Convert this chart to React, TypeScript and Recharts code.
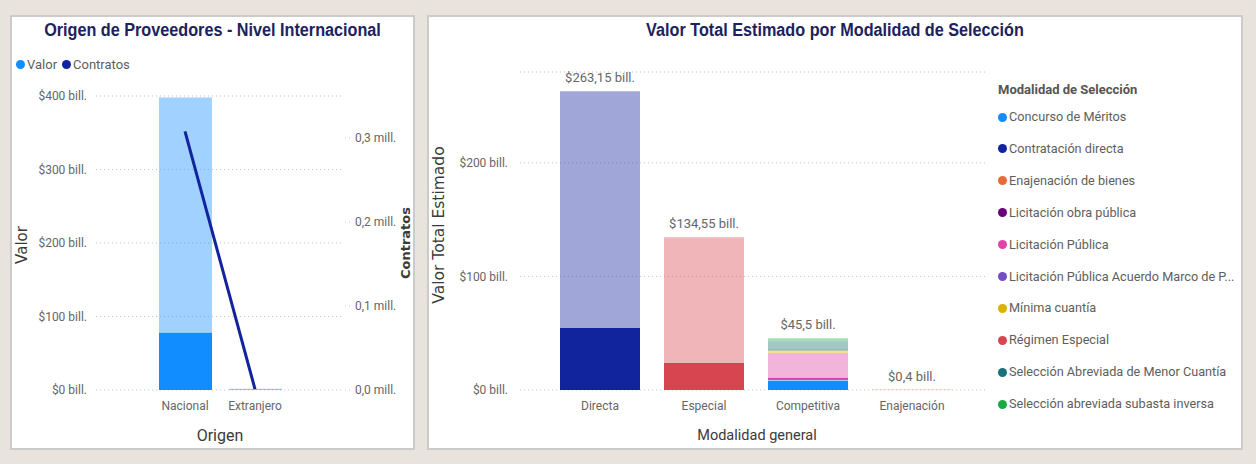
import { ComposedChart, Bar, Line, XAxis, YAxis, CartesianGrid, LabelList } from 'recharts'

// ─── Datos: Origen de proveedores ─────────────────────────────────────────────

const origenes = ['Nacional', 'Extranjero']
const valorTotalOrigen = [398, 1.6]      // bill.
const valorSelOrigen = [78, 0.4]         // parte resaltada, bill.
const contratosOrigen = [0.308, 0.001]   // mill.

const ticksValor = [0, 100, 200, 300, 400]
const ticksContratos = [0, 0.1, 0.2, 0.3]

// ─── Datos: Valor total por modalidad ─────────────────────────────────────────

const modalidadesGenerales = ['Directa', 'Especial', 'Competitiva', 'Enajenación']

const modalidades = [
  'Concurso de Méritos',
  'Contratación directa',
  'Enajenación de bienes',
  'Licitación obra pública',
  'Licitación Pública',
  'Licitación Pública Acuerdo Marco de P...',
  'Mínima cuantía',
  'Régimen Especial',
  'Selección Abreviada de Menor Cuantía',
  'Selección abreviada subasta inversa',
]

const colores = [
  '#118DFF', '#12239E', '#E66C37', '#6B007B', '#E044A7',
  '#744EC2', '#D9B300', '#D64550', '#197278', '#1AAB40',
]

// total por modalidad, en el orden de modalidadesGenerales (bill.)
const concursoTotal   = [0, 0, 8.8, 0]
const directaTotal    = [263.15, 0, 0, 0]
const enajenacionTotal = [0, 0, 0, 0.4]
const obraTotal       = [0, 0, 0, 0]
const licitacionTotal = [0, 0, 23.7, 0]
const acuerdoTotal    = [0, 0, 0, 0]
const minimaTotal     = [0, 0, 2.4, 0]
const regimenTotal    = [0, 134.55, 0, 0]
const menorTotal      = [0, 0, 8.0, 0]
const subastaTotal    = [0, 0, 2.6, 0]

// parte resaltada
const concursoSel   = [0, 0, 8.0, 0]
const directaSel    = [54.6, 0, 0, 0]
const enajenacionSel = [0, 0, 0, 0]
const obraSel       = [0, 0, 0, 0]
const licitacionSel = [0, 0, 2.0, 0]
const acuerdoSel    = [0, 0, 0, 0]
const minimaSel     = [0, 0, 0, 0]
const regimenSel    = [0, 23.8, 0, 0]
const menorSel      = [0, 0, 0.5, 0]
const subastaSel    = [0, 0, 0, 0]

const ticksModalidad = [0, 100, 200]

// ─── Estilos ──────────────────────────────────────────────────────────────────

const TITLE = '#1C2260'
const GRID = '#C8C6C4'
const TICK = '#666666'
const AXIS_TITLE = '#3B3A39'
const LEGEND = '#605E5C'

const tickStyle = { fontSize: 12, fill: TICK, fontFamily: 'Roboto' }

const totales = [concursoTotal, directaTotal, enajenacionTotal, obraTotal, licitacionTotal,
  acuerdoTotal, minimaTotal, regimenTotal, menorTotal, subastaTotal]
const seleccion = [concursoSel, directaSel, enajenacionSel, obraSel, licitacionSel,
  acuerdoSel, minimaSel, regimenSel, menorSel, subastaSel]

const origenData = origenes.map((o, i) => ({
  origen: o,
  sel: valorSelOrigen[i],
  resto: valorTotalOrigen[i] - valorSelOrigen[i],
  contratos: contratosOrigen[i],
}))

const modalidadData = modalidadesGenerales.map((m, c) => {
  const row: Record<string, string | number> = { modalidad: m }
  let total = 0
  modalidades.forEach((_, s) => {
    row['s' + s] = seleccion[s][c]
    row['r' + s] = totales[s][c] - seleccion[s][c]
    total += totales[s][c]
  })
  row.total = total
  return row
})

function fmtBill(v: number) {
  return '$' + String(Math.round(v * 100) / 100).replace('.', ',') + ' bill.'
}

function fmtMill(v: number) {
  return v.toFixed(1).replace('.', ',') + ' mill.'
}

// ─── Piezas comunes ───────────────────────────────────────────────────────────

const panelStyle: React.CSSProperties = {
  position: 'absolute', top: 15, height: 435, background: '#FFFFFF',
  boxShadow: 'inset 0 0 0 2px #CBCBCB',
}

function Title({ text, width }: { text: string; width: number }) {
  return (
    <div style={{
      position: 'absolute', left: 0, top: 4, width, textAlign: 'center',
      fontFamily: '"Liberation Sans", Arial', fontWeight: 700, fontSize: 18,
      lineHeight: '22px', color: TITLE, transform: 'scaleX(0.9)', whiteSpace: 'nowrap',
    }}>
      {text}
    </div>
  )
}

function Rotated({ text, x, y, size, bold }: { text: string; x: number; y: number; size: number; bold?: boolean }) {
  return (
    <div style={{
      position: 'absolute', left: x, top: y, transform: 'translate(-50%, -50%) rotate(-90deg)',
      fontFamily: '"DejaVu Sans"', fontSize: size, fontWeight: bold ? 700 : 400,
      color: AXIS_TITLE, whiteSpace: 'nowrap', lineHeight: 1,
    }}>
      {text}
    </div>
  )
}

function Centered({ text, x, y, size }: { text: string; x: number; y: number; size: number }) {
  return (
    <div style={{
      position: 'absolute', left: x, top: y, transform: 'translate(-50%, -50%)',
      fontFamily: 'Roboto', fontSize: size, color: AXIS_TITLE, whiteSpace: 'nowrap', lineHeight: 1,
    }}>
      {text}
    </div>
  )
}

function Dot({ color }: { color: string }) {
  return <span style={{
    display: 'inline-block', width: 9, height: 9, borderRadius: '50%', background: color, marginRight: 2,
  }} />
}

// ─── Origen de Proveedores ────────────────────────────────────────────────────

function OrigenPanel() {
  return (
    <div style={{ ...panelStyle, left: 10, width: 405 }}>
      <Title text="Origen de Proveedores - Nivel Internacional" width={405} />
      <div style={{
        position: 'absolute', left: 6, top: 42, display: 'flex', alignItems: 'center',
        fontFamily: 'Roboto', fontSize: 13, color: LEGEND,
      }}>
        <Dot color="#118DFF" /><span style={{ marginRight: 5 }}>Valor</span>
        <Dot color="#12239E" /><span>Contratos</span>
      </div>
      <div style={{ position: 'absolute', left: 0, top: 0 }}>
        <ComposedChart width={405} height={435} data={origenData}
          margin={{ top: 81, right: 0, left: 0, bottom: 30 }}>
          <CartesianGrid vertical={false} yAxisId="v" stroke={GRID} strokeDasharray="1 3" />
          <XAxis dataKey="origen" height={30} padding={{ left: 54, right: 52 }}
            axisLine={false} tickLine={false} tickSize={6} tickMargin={5} tick={tickStyle} interval={0} />
          <YAxis yAxisId="v" width={86} domain={[0, 400]} ticks={ticksValor}
            tickFormatter={(v: number) => '$' + v + ' bill.'}
            axisLine={false} tickLine={false} tickSize={6} tickMargin={3} tick={tickStyle} />
          <YAxis yAxisId="c" orientation="right" width={73} domain={[0, 0.35]} ticks={ticksContratos}
            tickFormatter={fmtMill} axisLine={false}
            tickLine={{ stroke: GRID, strokeDasharray: '1 3' }} tickSize={8} tickMargin={5} tick={tickStyle} />
          <Bar yAxisId="v" dataKey="sel" stackId="v" fill="#118DFF" barSize={53} isAnimationActive={false} />
          <Bar yAxisId="v" dataKey="resto" stackId="v" fill="#118DFF" fillOpacity={0.4} barSize={53} isAnimationActive={false} />
          <Line yAxisId="c" dataKey="contratos" type="linear" stroke="#12239E" strokeWidth={3}
            dot={false} activeDot={false} isAnimationActive={false} />
        </ComposedChart>
      </div>
      <Rotated text="Valor" x={12} y={230} size={15} />
      <Rotated text="Contratos" x={395} y={228} size={13} bold />
      <Centered text="Origen" x={210} y={421} size={16} />
    </div>
  )
}

// ─── Valor Total por Modalidad ────────────────────────────────────────────────

function ModalidadPanel() {
  return (
    <div style={{ ...panelStyle, left: 427, width: 816 }}>
      <Title text="Valor Total Estimado por Modalidad de Selección" width={816} />
      <div style={{ position: 'absolute', left: 0, top: 0 }}>
        <ComposedChart width={580} height={435} data={modalidadData}
          margin={{ top: 57, right: 22, left: 20, bottom: 30 }}>
          <CartesianGrid vertical={false} stroke={GRID} strokeDasharray="1 3" />
          <XAxis dataKey="modalidad" height={30} padding={{ left: 28, right: 21 }}
            axisLine={false} tickLine={false} tickSize={6} tickMargin={5} tick={tickStyle} interval={0} />
          <YAxis width={73} domain={[0, 280]} ticks={ticksModalidad}
            tickFormatter={(v: number) => '$' + v + ' bill.'}
            axisLine={false} tickLine={false} tickSize={6} tickMargin={6} tick={tickStyle} />
          {modalidades.flatMap((m, s) => [
            <Bar key={'s' + s} dataKey={'s' + s} name={m} stackId="a" fill={colores[s]}
              barSize={80} isAnimationActive={false} />,
            <Bar key={'r' + s} dataKey={'r' + s} name={m} stackId="a" fill={colores[s]} fillOpacity={0.4}
              barSize={80} isAnimationActive={false} />,
          ])}
          <Line dataKey="total" stroke="none" dot={false} activeDot={false} isAnimationActive={false}>
            <LabelList dataKey="total" position="top" offset={9} formatter={(v: number) => fmtBill(v)}
              fill={TICK} fontSize={13} fontFamily="Roboto" />
          </Line>
        </ComposedChart>
      </div>
      <Rotated text="Valor Total Estimado" x={13} y={210} size={15.5} />
      <Centered text="Modalidad general" x={330} y={421} size={14.5} />
      <div style={{
        position: 'absolute', left: 571, top: 66, fontFamily: 'Roboto', fontWeight: 700,
        fontSize: 13, color: '#555555', lineHeight: '18px', whiteSpace: 'nowrap',
      }}>
        Modalidad de Selección
      </div>
      {modalidades.map((m, i) => (
        <div key={m} style={{
          position: 'absolute', left: 571, top: 93 + i * 31.9, display: 'flex', alignItems: 'center',
          fontFamily: 'Roboto', fontSize: 12.7, color: LEGEND, lineHeight: '18px', whiteSpace: 'nowrap',
        }}>
          <Dot color={colores[i]} />{m}
        </div>
      ))}
    </div>
  )
}

export default function App() {
  return (
    <div style={{ position: 'absolute', left: 0, top: 0, width: 1256, height: 464, background: '#E9E3DE' }}>
      <OrigenPanel />
      <ModalidadPanel />
    </div>
  )
}
